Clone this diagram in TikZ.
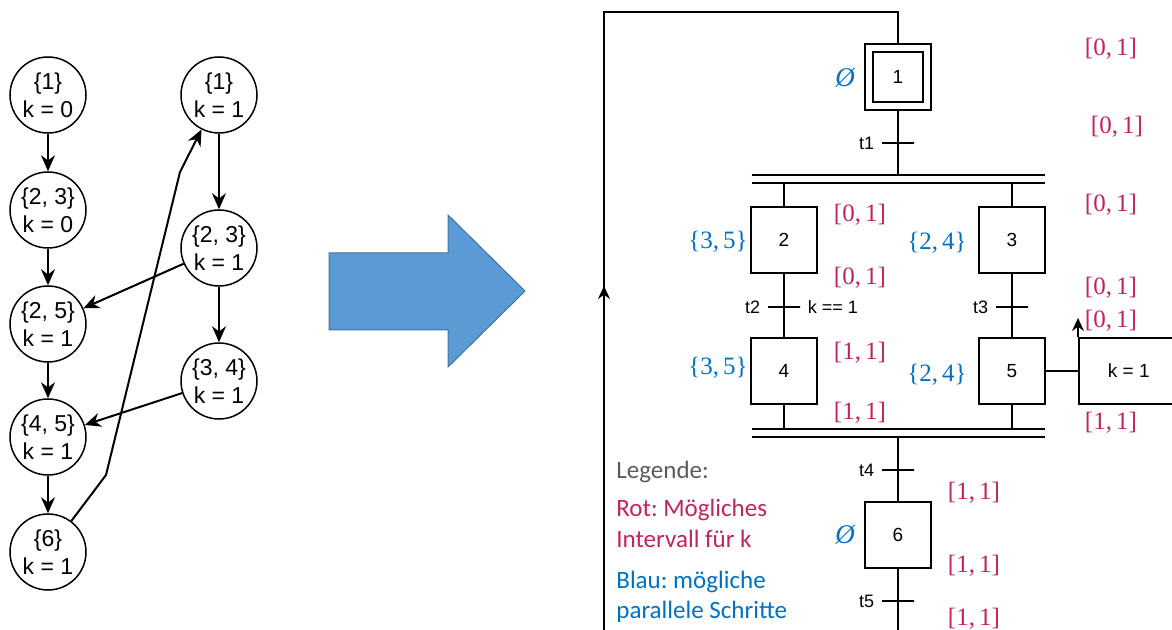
\documentclass[tikz,border=0pt]{standalone}
\usepackage{xcolor}
\usepackage{amsmath, amsfonts, amssymb}
\usepackage[no-math]{fontspec}
\setmainfont{Liberation Sans}
\newfontfamily\legendfont{Carlito}
\newfontfamily\mengenfont{Liberation Serif}
\usepackage{tikz}
\usetikzlibrary{arrows.meta}

\definecolor{rot}{HTML}{C0245C}
\definecolor{blau}{HTML}{0070C0}
\definecolor{grau}{HTML}{5F5959}
\definecolor{pfeilblau}{HTML}{5B9BD5}
\definecolor{pfeilrand}{HTML}{41719C}
\frenchspacing

\begin{document}
\begin{tikzpicture}[x=0.5pt, y=-0.5pt,
        zustand/.style={circle, draw, line width=0.75pt, minimum size=38pt, inner sep=0pt, align=center, font=\fontsize{11.5}{14}\selectfont},
        kante/.style={-{Stealth[length=8pt, width=7pt]}, line width=1pt},
        schritt/.style={draw, line width=0.75pt, minimum size=33pt, inner sep=0pt, font=\fontsize{9.5}{11}\selectfont},
        uebergang/.style={draw, line width=0.75pt, minimum width=16pt, minimum height=0pt, inner sep=0pt, label distance=1pt},
        sync/.style={minimum width=146.5pt, minimum height=4pt, inner sep=0pt},
        linie/.style={line width=0.75pt},
        intervall/.style={text=rot, font=\mengenfont\fontsize{12.5}{15}\selectfont, inner sep=0pt},
        parallel/.style={text=blau, font=\mengenfont\fontsize{12.5}{15}\selectfont, inner sep=0pt},
        legende/.style={font=\legendfont\fontsize{12.5}{15.5}\selectfont, anchor=base west, inner sep=0pt},
        every label/.style={font=\fontsize{9}{11}\selectfont}]
        \useasboundingbox (0,0) rectangle (1172,630);

        % Erreichbarkeitsgraph
        \node[zustand] at (48, 95) (a1) {\{1\}\\k = 0};
        \node[zustand] at (48, 210) (a2) {\{2, 3\}\\k = 0};
        \node[zustand] at (48, 324) (a3) {\{2, 5\}\\k = 1};
        \node[zustand] at (48, 437) (a4) {\{4, 5\}\\k = 1};
        \node[zustand] at (48, 552) (a5) {\{6\}\\k = 1};
        \node[zustand] at (219, 95) (b1) {\{1\}\\k = 1};
        \node[zustand] at (219, 248) (b2) {\{2, 3\}\\k = 1};
        \node[zustand] at (219, 381) (b3) {\{3, 4\}\\k = 1};
        \coordinate (k1) at (106, 475);
        \coordinate (k2) at (180, 172);

        \draw[kante] (a1) -- (a2);
        \draw[kante] (a2) -- (a3);
        \draw[kante] (a3) -- (a4);
        \draw[kante] (a4) -- (a5);
        \draw[kante] (b1) -- (b2);
        \draw[kante] (b2) -- (b3);
        \draw[kante] (b2) -- (a3);
        \draw[kante] (b3) -- (a4);
        \draw[kante] (a5) -- (k1) -- (k2) -- (b1);

        % Pfeil
        \draw[fill=pfeilblau, draw=pfeilrand, line width=0.5pt] (329, 253) -- (448, 253) -- (448, 215) -- (525, 291)
            -- (448, 367) -- (448, 330) -- (329, 330) -- cycle;

        % Ablaufsprache
        \node[schritt] at (898, 77) (s1) {};
        \node[schritt, minimum size=25pt] at (898, 77) (s1i) {1};
        \node[schritt] at (784, 240) (s2) {2};
        \node[schritt] at (1012, 240) (s3) {3};
        \node[schritt] at (784, 371) (s4) {4};
        \node[schritt] at (1012, 371) (s5) {5};
        \node[schritt] at (898, 535) (s6) {6};
        \node[schritt, minimum width=50pt, anchor=west] at (1078, 371) (aktion) {k = 1};

        \node[sync] at (898.5, 179) (sync1) {};
        \node[sync] at (898.5, 433) (sync2) {};
        \draw[line width=1pt] (sync1.north west) -- (sync1.north east);
        \draw[line width=1pt] (sync1.south west) -- (sync1.south east);
        \draw[line width=1pt] (sync2.north west) -- (sync2.north east);
        \draw[line width=1pt] (sync2.south west) -- (sync2.south east);

        \node[uebergang, label=left:t1] at (898, 143) (t1) {};
        \node[uebergang, label=left:t2, label={right:k == 1}] at (784, 307) (t2) {};
        \node[uebergang, label=left:t3] at (1012, 307) (t3) {};
        \node[uebergang, label=left:t4] at (898, 470) (t4) {};
        \node[uebergang, label=left:t5] at (898, 601) (t5) {};

        \coordinate (oben) at (604, 12);
        \coordinate (rueck) at (604, 630);
        \coordinate (pfeil) at (604, 286);
        \coordinate (ende) at (898, 630);
        \coordinate (kpfeil) at (1078, 318);

        \draw[linie] (s1.south) -- (s1.south |- sync1.north);
        \draw[linie] (s2.north) -- (s2.north |- sync1.south);
        \draw[linie] (s3.north) -- (s3.north |- sync1.south);
        \draw[linie] (s2) -- (s4);
        \draw[linie] (s3) -- (s5);
        \draw[linie] (s4.south) -- (s4.south |- sync2.north);
        \draw[linie] (s5.south) -- (s5.south |- sync2.north);
        \draw[linie] (s6.north |- sync2.south) -- (s6.north);
        \draw[linie] (s6) -- (ende);
        \draw[linie] (s5) -- (aktion);
        \draw[linie, -{Stealth[length=6.5pt, width=6pt]}] (aktion.north west) -- (kpfeil);
        \draw[linie] (s1.north) |- (oben) -- (rueck);
        \draw[linie, -{Stealth[length=6.5pt, width=6pt]}] (rueck) -- (pfeil);

        % Intervalle
        \node[intervall] at (1111, 49) (r1) {[0,\,1]};
        \node[intervall] at (1117, 127) (r2) {[0,\,1]};
        \node[intervall] at (860, 215) (r3) {[0,\,1]};
        \node[intervall] at (1111, 205) (r4) {[0,\,1]};
        \node[intervall] at (860, 278) (r5) {[0,\,1]};
        \node[intervall] at (1111, 288) (r6) {[0,\,1]};
        \node[intervall] at (1111, 321) (r7) {[0,\,1]};
        \node[intervall] at (860, 353) (r8) {[1,\,1]};
        \node[intervall] at (860, 413) (r9) {[1,\,1]};
        \node[intervall] at (1111, 423) (r10) {[1,\,1]};
        \node[intervall] at (974, 493) (r11) {[1,\,1]};
        \node[intervall] at (974, 566) (r12) {[1,\,1]};
        \node[intervall] at (974, 619) (r13) {[1,\,1]};

        % parallele Schritte
        \node[parallel, font=\mengenfont\itshape\fontsize{13.5}{15}\selectfont] at (845, 78) (p1) {Ø};
        \node[parallel] at (718, 242) (p2) {\{3,\,5\}};
        \node[parallel] at (937, 243) (p3) {\{2,\,4\}};
        \node[parallel] at (718, 368) (p4) {\{3,\,5\}};
        \node[parallel] at (937, 375) (p5) {\{2,\,4\}};
        \node[parallel, font=\mengenfont\itshape\fontsize{13.5}{15}\selectfont] at (845, 535) (p6) {Ø};

        % Legende
        \node[legende, text=grau] at (616, 478) (leg) {Legende:};
        \node[legende, text=rot] at (616, 516) (leg1) {Rot: Mögliches};
        \node[legende, text=rot] at (616, 547) (leg2) {Intervall für k};
        \node[legende, text=blau] at (616, 588) (leg3) {Blau: mögliche};
        \node[legende, text=blau] at (616, 618) (leg4) {parallele Schritte};
\end{tikzpicture}
\end{document}
